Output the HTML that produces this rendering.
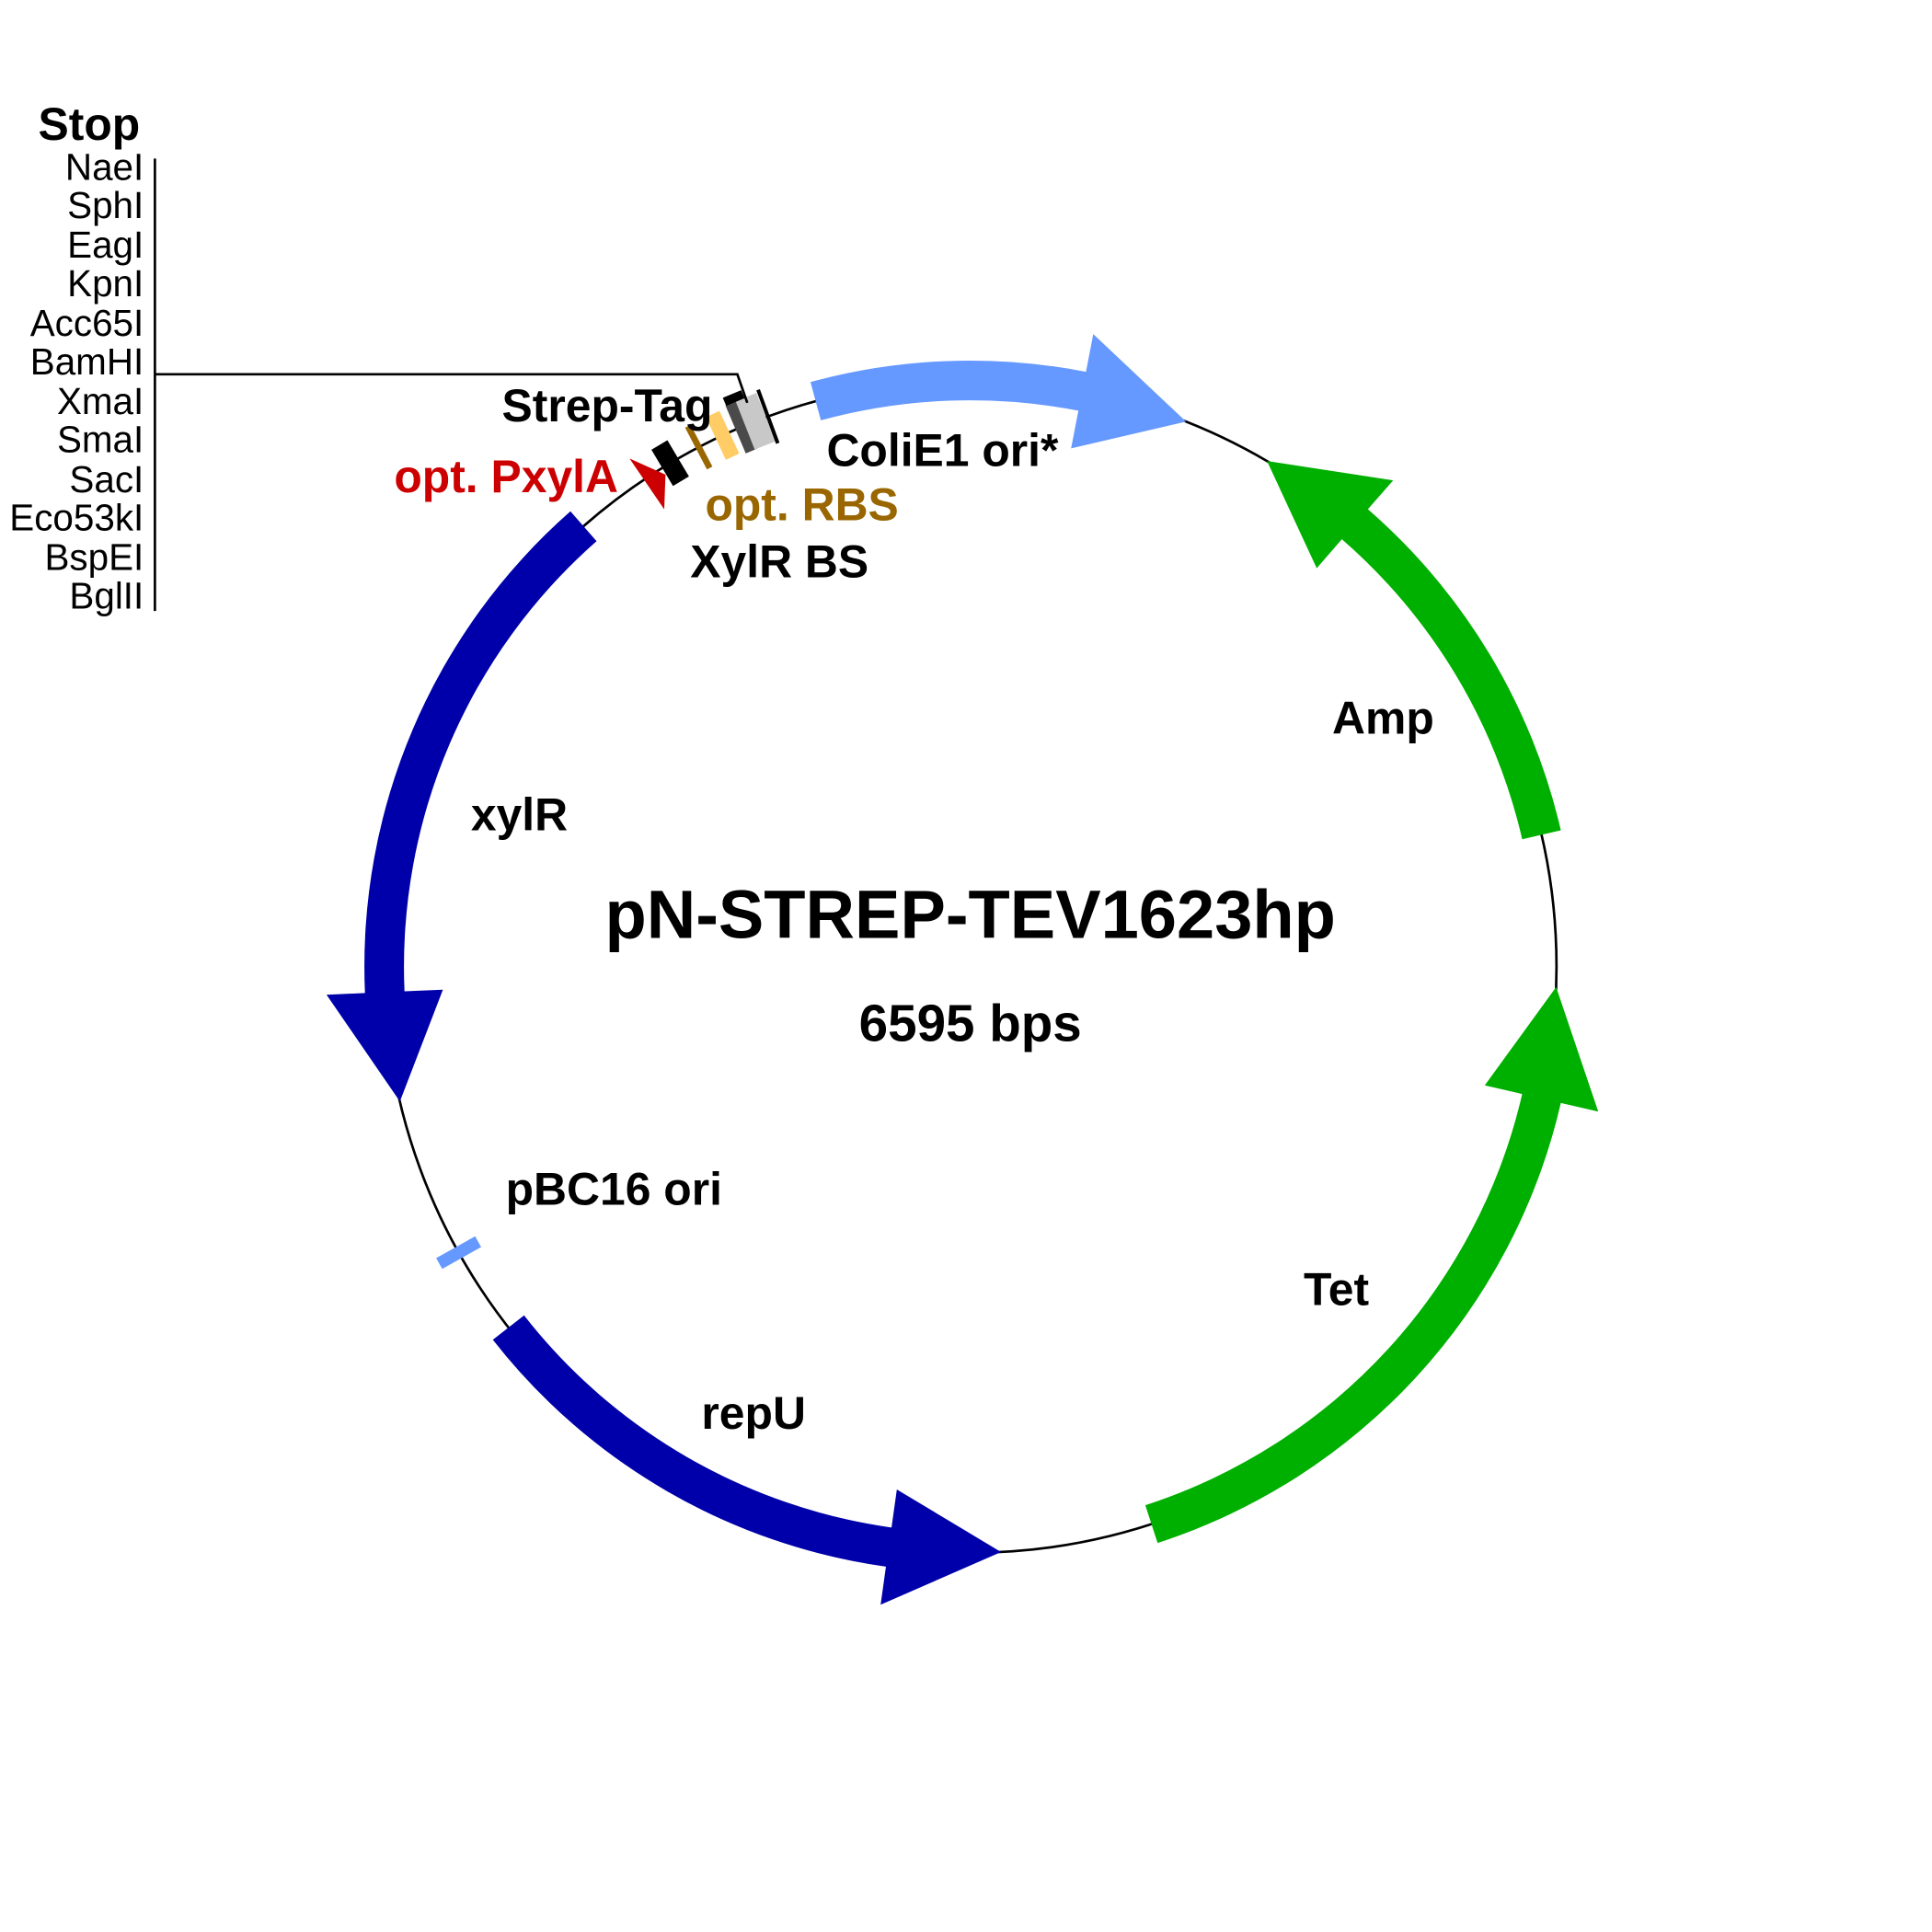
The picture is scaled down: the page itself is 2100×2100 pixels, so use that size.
<!DOCTYPE html>
<html><head><meta charset="utf-8"><style>
html,body{margin:0;padding:0;background:#fff;width:2100px;height:2100px;overflow:hidden}
svg{display:block}
text{font-family:"Liberation Sans",Arial,sans-serif}
.b{font-weight:bold;font-size:37px}
.e{font-size:30px;text-anchor:end}
</style></head><body>
<svg id="s" width="2100" height="2100" viewBox="0 0 1559 1559" xmlns="http://www.w3.org/2000/svg">
<circle cx="783" cy="780" r="473" fill="none" stroke="#000" stroke-width="2"/>
<g id="arrows"></g>
<g id="feats"></g>
<polyline points="125,302 595,302 603,325" fill="none" stroke="#000" stroke-width="2"/>
<line x1="125" y1="128" x2="125" y2="493" stroke="#000" stroke-width="2"/>
<text x="113" y="113" font-size="37" font-weight="bold" text-anchor="end">Stop</text>
<text class="e" x="116" y="145">NaeI</text>
<text class="e" x="116" y="176">SphI</text>
<text class="e" x="116" y="208">EagI</text>
<text class="e" x="116" y="239">KpnI</text>
<text class="e" x="116" y="271">Acc65I</text>
<text class="e" x="116" y="302">BamHI</text>
<text class="e" x="116" y="334">XmaI</text>
<text class="e" x="116" y="365">SmaI</text>
<text class="e" x="116" y="397">SacI</text>
<text class="e" x="116" y="428">Eco53kI</text>
<text class="e" x="116" y="460">BspEI</text>
<text class="e" x="116" y="491">BglII</text>
<text class="b" x="405" y="340">Strep-Tag</text>
<text class="b" x="318" y="397" fill="#cc0000">opt. PxylA</text>
<text class="b" x="569" y="420" fill="#996600">opt. RBS</text>
<text class="b" x="557" y="466">XylR BS</text>
<text class="b" x="667" y="376">ColiE1 ori*</text>
<text class="b" x="1075" y="592">Amp</text>
<text class="b" x="380" y="670">xylR</text>
<text class="b" x="408" y="972">pBC16 ori</text>
<text class="b" x="566" y="1153">repU</text>
<text class="b" x="1052" y="1053">Tet</text>
<text x="783" y="757" font-size="55" font-weight="bold" text-anchor="middle">pN-STREP-TEV1623hp</text>
<text x="783" y="840" font-size="42" font-weight="bold" text-anchor="middle">6595 bps</text>
</svg>
<script>
var cx=783,cy=780,R=473;
function P(a,r){a=a*Math.PI/180;return (cx+r*Math.sin(a)).toFixed(1)+","+(cy-r*Math.cos(a)).toFixed(1);}
function arrow(a0,ab,at,col){
 var w=16,h=47,cw=ab>a0?1:0,ccw=1-cw;
 var d="M"+P(a0,R+w)+" A"+(R+w)+","+(R+w)+" 0 0,"+cw+" "+P(ab,R+w)+" L"+P(ab,R+h)+" L"+P(at,R)+" L"+P(ab,R-h)+" L"+P(ab,R-w)+" A"+(R-w)+","+(R-w)+" 0 0,"+ccw+" "+P(a0,R-w)+" Z";
 return '<path d="'+d+'" fill="'+col+'"/>';
}
var h="";
h+=arrow(-15.3,11,21.6,"#6699ff");
h+=arrow(77,41,30.4,"#00b000");
h+=arrow(162,103,92,"#00b000");
h+=arrow(232,188,177,"#0000aa");
h+=arrow(318.7,267.5,256.7,"#0000aa");
document.getElementById("arrows").innerHTML=h;
function box(a,w,ht,col,off){off=off||0;return '<rect transform="rotate('+a+' '+cx+' '+cy+')" x="'+(cx-w/2)+'" y="'+(cy-R-ht/2-off)+'" width="'+w+'" height="'+ht+'" fill="'+col+'"/>';}
var f="";
f+=box(240.8,10,36,"#6699ff");
f+=box(-23.0,10,42,"#4a4a4a");
f+=box(-21.5,18,42,"#c8c8c8");
f+=box(-20.2,3,46,"#000");
f+=box(-22.6,16,7,"#000",24);
f+=box(-25.0,12,38,"#ffcc66");
f+=box(-27.6,5,38,"#996600");
f+=box(-30.8,15,34,"#000");
f+='<polygon points="508,370 537,383 536,411" fill="#cc0000"/>';
document.getElementById("feats").innerHTML=f;
</script>
</body></html>
